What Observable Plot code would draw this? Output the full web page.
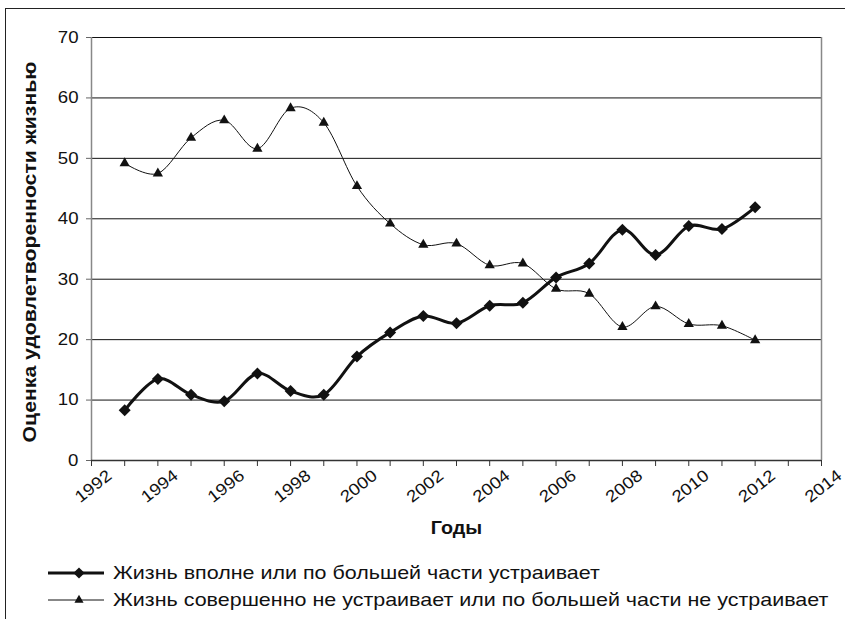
<!DOCTYPE html>
<html>
<head>
<meta charset="utf-8">
<script src="https://cdn.jsdelivr.net/npm/d3@7"></script>
<script src="https://cdn.jsdelivr.net/npm/@observablehq/plot@0.6"></script>
<style>
  html, body { margin: 0; padding: 0; background: #fff; overflow: hidden; }
  body { width: 845px; height: 619px; position: relative; font-family: "Liberation Sans", Arial, sans-serif; }
  #frame { position: absolute; left: 5px; top: 8px; width: 1000px; height: 1000px; border: 1.5px solid #222; box-sizing: border-box; }
  #chart { position: absolute; left: 0; top: 0; }
  #legend { position: absolute; left: 0; top: 0; width: 845px; }
  .row { position: absolute; left: 46px; height: 24px; display: flex; align-items: center; font-size: 19px; color: #111; white-space: nowrap; }
  .row svg { margin-right: 7px; flex: none; }
  .row span { display: inline-block; transform: scaleX(1.13); transform-origin: 0 50%; }
</style>
</head>
<body>
<div id="frame"></div>
<div id="chart"></div>
<div id="legend"></div>
<script>
// ---- data ----
const years = [1993,1994,1995,1996,1997,1998,1999,2000,2001,2002,2003,2004,2005,2006,2007,2008,2009,2010,2011,2012];
const satisfied = [8.3,13.5,10.9,9.8,14.4,11.5,10.9,17.2,21.2,23.9,22.7,25.6,26.1,30.3,32.6,38.2,34.0,38.8,38.3,41.9];
const dissatisfied = [49.2,47.5,53.4,56.3,51.6,58.3,55.9,45.4,39.2,35.7,35.9,32.3,32.6,28.4,27.6,22.1,25.5,22.6,22.3,19.9];
const seriesNames = ["Жизнь вполне или по большей части устраивает", "Жизнь совершенно не устраивает или по большей части не устраивает"];
const yTicks = [0,10,20,30,40,50,60,70];
const xLabelYears = [1992,1994,1996,1998,2000,2002,2004,2006,2008,2010,2012,2014];
const xMinorYears = d3.range(1992, 2015);
const xTitle = "Годы";
const yTitle = "Оценка удовлетворенности жизнью";

const sat = years.map((y, i) => ({year: y, value: satisfied[i]}));
const dis = years.map((y, i) => ({year: y, value: dissatisfied[i]}));

const chart = Plot.plot({
  width: 845,
  height: 550,
  marginLeft: 91,
  marginRight: 24,
  marginTop: 37,
  marginBottom: 90,
  style: {fontFamily: "'Liberation Sans', Arial, sans-serif", fontSize: "16.5px", color: "#111", background: "transparent", overflow: "visible"},
  x: {domain: [1992, 2014], axis: null},
  y: {domain: [0, 70], axis: null},
  marks: [
    Plot.gridY(yTicks, {stroke: "#111", strokeOpacity: 1, strokeWidth: 1}),
    Plot.ruleX([1992], {stroke: "#888", strokeWidth: 1.5}),
    Plot.ruleX([2014], {stroke: "#888", strokeWidth: 1.5}),
    Plot.axisY({ticks: yTicks, tickSize: 5, tickPadding: 8, label: null, stroke: "#666", fontSize: 16.5, tickFormat: d3.format("d")}),
    Plot.axisX({ticks: xMinorYears, tickSize: 6, tickFormat: () => "", label: null, stroke: "#333"}),
    Plot.ruleY([0], {stroke: "#333", strokeWidth: 1.5}),
    Plot.text(xLabelYears, {x: d => d, text: d => String(d), frameAnchor: "bottom", textAnchor: "middle", rotate: -38, dx: 5, dy: 30, fontSize: 16.5, fill: "#111"}),
    Plot.text([xTitle], {frameAnchor: "bottom", textAnchor: "middle", dy: 73, fontWeight: "bold", fontSize: 17.5, fill: "#111"}),
    Plot.text([yTitle], {frameAnchor: "left", textAnchor: "middle", rotate: -90, dx: -62, dy: 3, fontWeight: "bold", fontSize: 18.8, fill: "#111"}),
    Plot.line(dis, {x: "year", y: "value", curve: "cardinal", stroke: "#111", strokeWidth: 1}),
    Plot.dot(dis, {x: "year", y: "value", symbol: "triangle", r: 3.8, fill: "#111", stroke: "none"}),
    Plot.line(sat, {x: "year", y: "value", curve: "cardinal", stroke: "#111", strokeWidth: 3}),
    Plot.dot(sat, {x: "year", y: "value", symbol: "diamond2", r: 5.4, fill: "#111", stroke: "none"})
  ]
});

// widen glyphs horizontally (the reference type is set wide)
const SX = 1.13;
chart.querySelectorAll("text").forEach(t => {
  const xa = t.getAttribute("x");
  if (xa !== null && !isNaN(+xa)) t.setAttribute("x", (+xa) / SX);
  const tr = t.getAttribute("transform") || "";
  t.setAttribute("transform", `${tr} scale(${SX},1)`);
});
document.getElementById("chart").appendChild(chart);

// ---- legend (below the svg) ----
const legend = d3.select("#legend");
const legendSpec = [
  {name: seriesNames[0], symbol: d3.symbolDiamond2, size: 80, width: 3, top: 561},
  {name: seriesNames[1], symbol: d3.symbolTriangle, size: 36, width: 1, top: 588}
];
legendSpec.forEach(s => {
  const row = legend.append("div").attr("class", "row").style("top", s.top + "px");
  const sw = row.append("svg").attr("width", 60).attr("height", 24);
  sw.append("line").attr("x1", 2).attr("x2", 58).attr("y1", 12).attr("y2", 12).attr("stroke", "#111").attr("stroke-width", s.width);
  sw.append("path").attr("d", d3.symbol(s.symbol, s.size)()).attr("transform", "translate(33,12)").attr("fill", "#111");
  row.append("span").text(s.name);
});
</script>
</body>
</html>
